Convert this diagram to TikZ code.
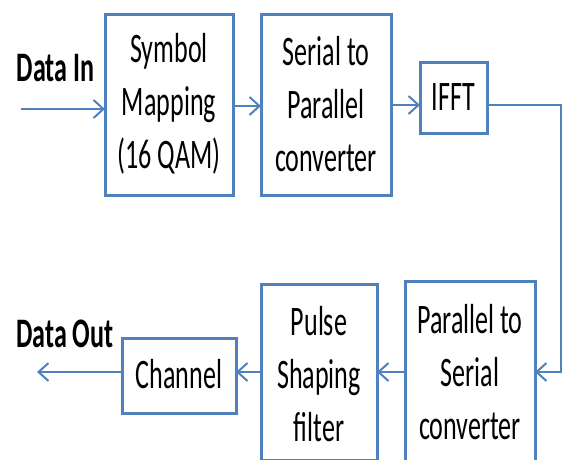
\documentclass[tikz,border=0pt]{standalone}
\usepackage{fontspec}
\setmainfont[FakeStretch=0.62]{Carlito}
\usetikzlibrary{arrows.meta}
\definecolor{obl}{HTML}{4F81BD}
\begin{document}
\begin{tikzpicture}[x=1pt,y=-1pt,
  blk/.style={draw=obl,line width=3pt,inner sep=0pt},
  txt/.style={align=center,font=\fontsize{42}{53}\selectfont,inner sep=0pt},
  lbl/.style={font=\fontsize{42}{50}\selectfont\bfseries,inner sep=0pt},
  con/.style={draw=obl,line width=2pt,-{Straight Barb[length=10pt,width=18pt,line width=2pt]}}]
\clip (0,0) rectangle (563,459);
\fill[white] (0,0) rectangle (563,459);
% boxes
\draw[blk] (105,14) rectangle (233,195);
\draw[blk] (261,14) rectangle (391,195);
\draw[blk] (420,62) rectangle (487,133);
\draw[blk] (405,281) rectangle (535,463);
\draw[blk] (261,284) rectangle (377,460);
\draw[blk] (122,338) rectangle (236,413);
% named anchors
\coordinate (s1w) at (105,109);
\coordinate (s1e) at (233,106);
\coordinate (s2w) at (261,106);
\coordinate (s2e) at (391,105);
\coordinate (ifw) at (420,105);
\coordinate (ife) at (487,105);
\coordinate (ps1e) at (535,372);
\coordinate (ps1w) at (405,372);
\coordinate (ps2e) at (377,372);
\coordinate (ps2w) at (261,372);
\coordinate (che) at (236,372);
\coordinate (chw) at (122,372);
\coordinate (din) at (21,109);
\coordinate (dout) at (37,372);
\coordinate (corner1) at (561,105);
\coordinate (corner2) at (561,372);
% texts
\node[txt] (t1) at (169,104) {Symbol\\Mapping\\(16 QAM)};
\node[txt] (t2) at (326,104) {Serial to\\Parallel\\converter};
\node[txt] (t3) at (453.5,97.5) {IFFT};
\node[txt] (t4) at (470,372) {Parallel to\\Serial\\converter};
\node[txt] (t5) at (319,374) {Pulse\\Shaping\\filter};
\node[txt] (t6) at (179,374) {Channel};
\node[lbl] (lin) at (55.5,68) {Data In};
\node[lbl] (lout) at (65,334) {Data Out};
% connectors
\draw[con] (din) -- (s1w);
\draw[con] (s1e) -- (s2w);
\draw[con] (s2e) -- (ifw);
\draw[con] (ife) -- (corner1) -- (corner2) -- (ps1e);
\draw[con] (ps1w) -- (ps2e);
\draw[con] (ps2w) -- (che);
\draw[con] (chw) -- (dout);
\end{tikzpicture}
\end{document}
